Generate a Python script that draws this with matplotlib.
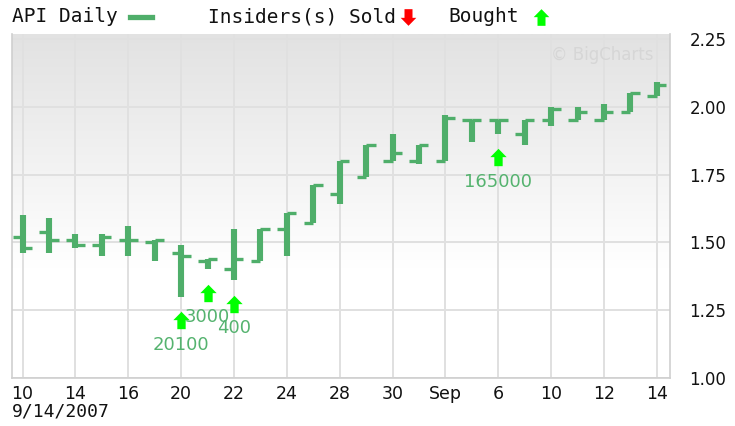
import matplotlib
matplotlib.use("Agg")
import matplotlib.pyplot as plt
import numpy as np
from matplotlib.path import Path
from matplotlib.lines import Line2D
from matplotlib.transforms import offset_copy
from matplotlib.colors import to_rgb

# ---------------- data ----------------
tick_labels = ["10", "14", "16", "20", "22", "24", "28", "30", "Sep", "6", "10", "12", "14"]
opens  = [1.52, 1.54, 1.51, 1.49, 1.51, 1.50, 1.46, 1.43, 1.40, 1.43, 1.55, 1.57, 1.68,
          1.74, 1.80, 1.80, 1.80, 1.95, 1.95, 1.90, 1.95, 1.95, 1.95, 1.98, 2.04]
highs  = [1.60, 1.59, 1.53, 1.53, 1.56, 1.51, 1.49, 1.44, 1.55, 1.55, 1.61, 1.71, 1.80,
          1.86, 1.90, 1.86, 1.97, 1.95, 1.95, 1.95, 2.00, 2.00, 2.01, 2.05, 2.09]
lows   = [1.46, 1.46, 1.48, 1.45, 1.45, 1.43, 1.30, 1.40, 1.36, 1.43, 1.45, 1.57, 1.64,
          1.74, 1.80, 1.79, 1.80, 1.87, 1.90, 1.86, 1.93, 1.95, 1.95, 1.98, 2.04]
closes = [1.48, 1.51, 1.49, 1.52, 1.51, 1.51, 1.45, 1.44, 1.44, 1.55, 1.61, 1.71, 1.80,
          1.86, 1.83, 1.86, 1.96, 1.95, 1.95, 1.95, 1.99, 1.98, 1.98, 2.05, 2.08]
buy_idx = [6, 7, 8, 18]
buy_labels = ["20100", "3000", "400", "165000"]
y_ticks = [1.00, 1.25, 1.50, 1.75, 2.00, 2.25]

W, H = 735, 426
BAR = "#4FAE6A"
TXT_GREEN = "#55b36f"
ARROW_GREEN = "#00ff00"

fig = plt.figure(figsize=(W / 100, H / 100), dpi=100)
fig.patch.set_facecolor("white")

def fx(x):
    return x / W

def fy(y):
    return 1 - y / H

ax = fig.add_axes([fx(12), fy(378), fx(670) - fx(12), fy(34) - fy(378)])
x = np.arange(len(opens))
xlim = (-0.4, len(opens) - 0.5)
ylim = (1.0, 2.268)
ax.set_xlim(*xlim)
ax.set_ylim(*ylim)

# gradient background
n = 256
t = np.linspace(0, 1, n)  # 0 top -> 1 bottom
f = np.clip(t / 0.68, 0, 1)
top = np.array(to_rgb("#e2e2e2"))
bot = np.array([1.0, 1.0, 1.0])
grad = (top[None, :] * (1 - f[:, None]) + bot[None, :] * f[:, None])[:, None, :]
ax.imshow(grad, extent=[xlim[0], xlim[1], ylim[0], ylim[1]], aspect="auto", zorder=0,
          interpolation="bilinear")

# grid
ax.set_xticks(x[::2])
ax.set_xticklabels(tick_labels)
ax.set_yticks(y_ticks)
ax.set_yticklabels([f"{v:.2f}" for v in y_ticks])
ax.grid(True, color="#e0e0e0", linewidth=1.4)
ax.set_axisbelow(True)
ax.yaxis.tick_right()
ax.tick_params(axis="y", length=0, pad=14, labelsize=12, labelcolor="#111111")
ax.tick_params(axis="x", length=0, pad=5, labelsize=12.5, labelcolor="#111111")
ax.spines["top"].set_visible(False)
for s in ["left", "right", "bottom"]:
    ax.spines[s].set_color("#cfcfcf")
    ax.spines[s].set_linewidth(1.2)

# OHLC bars
tick_half = 0.36
ax.hlines(opens, x - tick_half, x, colors=BAR, linewidth=2.4, zorder=3)
ax.hlines(closes, x, x + tick_half, colors=BAR, linewidth=2.4, zorder=3)
ax.vlines(x, lows, highs, colors=BAR, linewidth=4.4, zorder=4)

# insider purchase arrows
up_arrow = Path([(0, 0.5), (0.47, 0.02), (0.24, 0.02), (0.24, -0.5), (-0.24, -0.5),
                 (-0.24, 0.02), (-0.47, 0.02), (0, 0.5)],
                [Path.MOVETO] + [Path.LINETO] * 6 + [Path.CLOSEPOLY])
down_arrow = Path([(0, -0.5), (0.47, -0.02), (0.24, -0.02), (0.24, 0.5), (-0.24, 0.5),
                   (-0.24, -0.02), (-0.47, -0.02), (0, -0.5)],
                  [Path.MOVETO] + [Path.LINETO] * 6 + [Path.CLOSEPOLY])

arrow_tr = offset_copy(ax.transData, fig=fig, x=0, y=-23.5 * 0.72, units="points")
label_tr = offset_copy(ax.transData, fig=fig, x=0, y=-48 * 0.72, units="points")
for i, lab in zip(buy_idx, buy_labels):
    ax.plot([x[i]], [lows[i]], marker=up_arrow, markersize=12.5, color=ARROW_GREEN,
            markeredgewidth=0, transform=arrow_tr, zorder=5, clip_on=False)
    ax.text(x[i], lows[i], lab, transform=label_tr, ha="center", va="center",
            fontsize=13, color=TXT_GREEN, zorder=6)

# watermark
ax.text(0.975, 0.94, "\u00a9 BigCharts", transform=ax.transAxes, ha="right", va="center",
        fontsize=12, color="#d6d6d6", zorder=2)

# header
mono = "DejaVu Sans Mono"
fig.text(fx(12), fy(17), "API Daily", family=mono, fontsize=14, va="center", ha="left",
         color="#111111")
fig.add_artist(Line2D([fx(130), fx(152)], [fy(17), fy(17)], color=BAR, linewidth=3.8,
                      transform=fig.transFigure))
fig.text(fx(208), fy(17), "Insiders(s) Sold", family=mono, fontsize=14, va="center",
         ha="left", color="#111111")
fig.add_artist(Line2D([fx(408)], [fy(17)], marker=down_arrow, markersize=12, color="#ff0000",
                      markeredgewidth=0, linestyle="none", transform=fig.transFigure))
fig.text(fx(448), fy(17), "Bought", family=mono, fontsize=14, va="center", ha="left",
         color="#111111")
fig.add_artist(Line2D([fx(541)], [fy(17)], marker=up_arrow, markersize=12, color=ARROW_GREEN,
                      markeredgewidth=0, linestyle="none", transform=fig.transFigure))

# date
fig.text(fx(12), fy(412), "9/14/2007", family=mono, fontsize=13, va="center", ha="left",
         color="#111111")

fig.savefig("out.png", dpi=100, facecolor="white")
